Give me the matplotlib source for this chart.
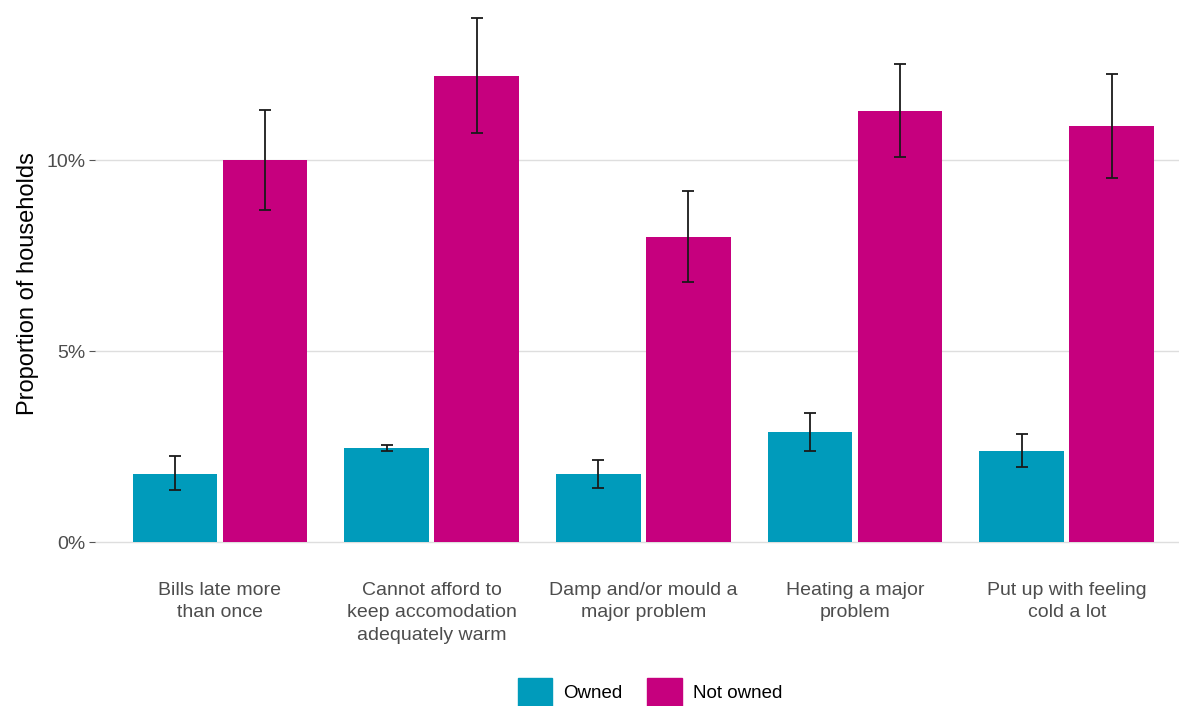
import numpy as np
import matplotlib
matplotlib.use("Agg")
import matplotlib.pyplot as plt
from matplotlib.patches import Patch

# ==========================================
# DATA
# ==========================================

categories = [
    "Bills late more\nthan once",
    "Cannot afford to\nkeep accomodation\nadequately warm",
    "Damp and/or mould a\nmajor problem",
    "Heating a major\nproblem",
    "Put up with feeling\ncold a lot",
]

owned = [1.78, 2.46, 1.78, 2.88, 2.38]
owned_lo = [1.36, 2.38, 1.41, 2.38, 1.96]
owned_hi = [2.25, 2.54, 2.15, 3.38, 2.83]

not_owned = [10.0, 12.2, 7.98, 11.28, 10.89]
not_owned_lo = [8.69, 10.71, 6.81, 10.08, 9.53]
not_owned_hi = [11.3, 13.72, 9.19, 12.51, 12.25]

series_labels = ["Owned", "Not owned"]
colors = ["#009BBB", "#C6007E"]

# ==========================================
# PLOT
# ==========================================

plt.rcParams["font.family"] = ["Liberation Sans", "DejaVu Sans"]

fig = plt.figure(figsize=(11.79, 7.06), dpi=100)
ax = fig.add_axes([95 / 1179, 138 / 706, 1 - 95 / 1179, 568 / 706])

x = np.arange(len(categories))
width = 0.40
offset = 0.2125

for i, (vals, lo, hi) in enumerate([(owned, owned_lo, owned_hi),
                                     (not_owned, not_owned_lo, not_owned_hi)]):
    pos = x + (offset if i else -offset)
    vals = np.array(vals)
    yerr = [vals - np.array(lo), np.array(hi) - vals]
    ax.bar(pos, vals, width=width, color=colors[i], zorder=2)
    ax.errorbar(pos, vals, yerr=yerr, fmt="none", ecolor="#1a1a1a",
                elinewidth=1.3, capsize=4.5, capthick=1.3, zorder=3)

ax.set_xlim(-0.59, 4.53)
ax.set_ylim(-0.68, 14.19)

ax.set_yticks([0, 5, 10])
ax.set_yticklabels(["0%", "5%", "10%"])
ax.yaxis.grid(True, color="#DEDEDE", linewidth=1.0, zorder=0)
ax.set_axisbelow(True)

ax.set_xticks(x)
ax.set_xticklabels(categories, linespacing=1.42)

ax.tick_params(axis="y", length=4, color="#555555", labelcolor="#4D4D4D",
               labelsize=14, pad=3)
ax.tick_params(axis="x", length=0, labelcolor="#4D4D4D", labelsize=14, pad=10)

for s in ax.spines.values():
    s.set_visible(False)

ax.set_ylabel("Proportion of households", fontsize=17, color="black", labelpad=5)

handles = [Patch(color=c, label=l) for c, l in zip(colors, series_labels)]
fig.legend(handles=handles, loc="center", bbox_to_anchor=(650 / 1179, 14 / 706),
           ncol=2, frameon=False, fontsize=13.5, handlelength=1.85, handleheight=1.85,
           handletextpad=0.6, columnspacing=1.3)

fig.savefig("out.png", dpi=100)
plt.close()
